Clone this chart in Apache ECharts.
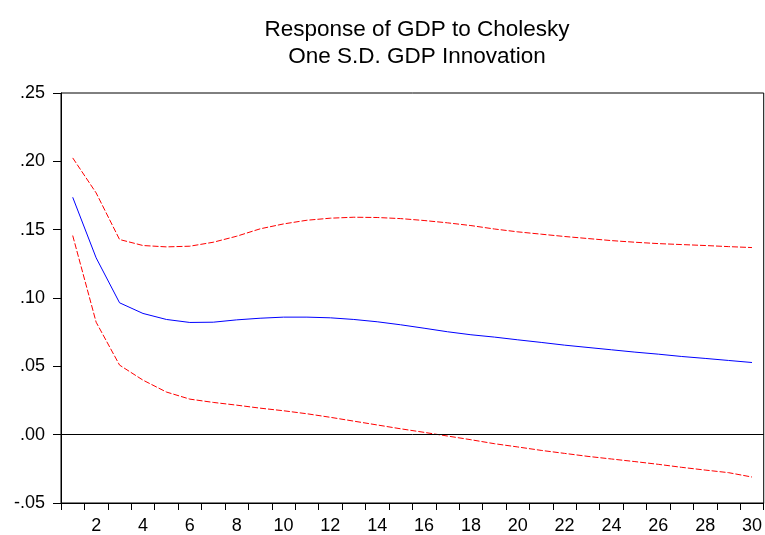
<!DOCTYPE html>
<html>
<head>
<meta charset="utf-8">
<script src="https://cdn.jsdelivr.net/npm/echarts@6/dist/echarts.min.js"></script>
<style>html,body{margin:0;padding:0;background:#fff}#c{width:765px;height:535px}</style>
</head>
<body>
<div id="c"></div>
<script>
var periods = [1,2,3,4,5,6,7,8,9,10,11,12,13,14,15,16,17,18,19,20,21,22,23,24,25,26,27,28,29,30];
var response = [0.1737,0.1294,0.0965,0.0887,0.0843,0.0821,0.0823,0.0840,0.0852,0.0860,0.0860,0.0855,0.0843,0.0826,0.0804,0.0779,0.0753,0.0731,0.0714,0.0694,0.0675,0.0655,0.0638,0.0621,0.0604,0.0589,0.0572,0.0558,0.0543,0.0528];
var upperBand = [0.2025,0.1769,0.1428,0.1384,0.1374,0.1379,0.1408,0.1452,0.1506,0.1542,0.1569,0.1584,0.1591,0.1589,0.1581,0.1567,0.1550,0.1530,0.1505,0.1484,0.1467,0.1450,0.1435,0.1420,0.1408,0.1398,0.1391,0.1384,0.1376,0.1369];
var lowerBand = [0.1457,0.0823,0.0509,0.0399,0.0312,0.0260,0.0236,0.0216,0.0194,0.0175,0.0153,0.0127,0.0099,0.0071,0.0043,0.0017,-0.0010,-0.0037,-0.0066,-0.0090,-0.0115,-0.0137,-0.0159,-0.0178,-0.0197,-0.0217,-0.0239,-0.0259,-0.0278,-0.0310];
var titleLines = ['Response of GDP to Cholesky', 'One S.D. GDP Innovation'];

var chart = echarts.init(document.getElementById('c'), null, {renderer: 'canvas'});
var font = 'Arial, "Liberation Sans", sans-serif';
chart.setOption({
  animation: false,
  backgroundColor: '#fff',
  title: {
    text: titleLines.join('\n'),
    left: 412, top: 11, textAlign: 'center',
    textStyle: {fontFamily: font, fontSize: 22.5, fontWeight: 'normal', color: '#000', lineHeight: 27}
  },
  grid: {left: 61, right: 1, top: 93, bottom: 31, show: true, borderColor: '#000', borderWidth: 1, backgroundColor: 'transparent'},
  xAxis: {
    type: 'category', data: periods, boundaryGap: true,
    axisLine: {show: true, onZero: false, lineStyle: {color: '#000', width: 1}},
    axisTick: {show: true, interval: 0, length: 7, lineStyle: {color: '#000'}},
    axisLabel: {interval: function (i) { return i % 2 === 1; }, color: '#000', fontFamily: font, fontSize: 18, margin: 14},
    splitLine: {show: false}
  },
  yAxis: {
    type: 'value', min: -0.05, max: 0.25, interval: 0.05,
    axisLine: {show: true, lineStyle: {color: '#000', width: 1}},
    axisTick: {show: true, length: 8, lineStyle: {color: '#000'}},
    axisLabel: {color: '#000', fontFamily: font, fontSize: 18, margin: 16,
      formatter: function (v) { return v.toFixed(2).replace('0.', '.'); }},
    splitLine: {show: false}
  },
  series: [
    {type: 'line', data: upperBand, symbol: 'none', lineStyle: {color: '#ff0000', width: 1, type: [6, 2]},
     markLine: {silent: true, symbol: 'none', label: {show: false}, lineStyle: {color: '#000', width: 1, type: 'solid'}, data: [{yAxis: 0}]}},
    {type: 'line', data: response, symbol: 'none', lineStyle: {color: '#0000ff', width: 1}},
    {type: 'line', data: lowerBand, symbol: 'none', lineStyle: {color: '#ff0000', width: 1, type: [6, 2]}}
  ]
});
</script>
</body>
</html>
